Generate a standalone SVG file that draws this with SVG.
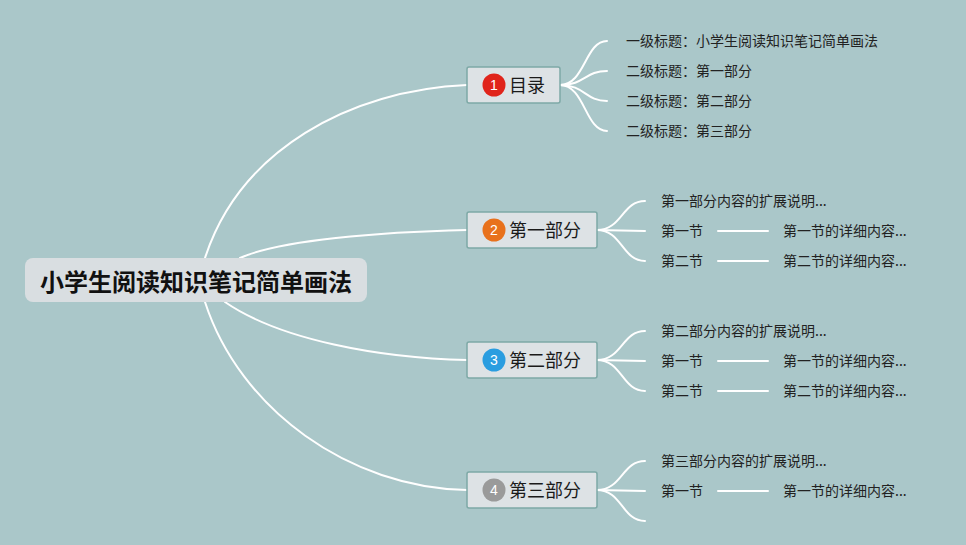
<svg xmlns="http://www.w3.org/2000/svg" width="966" height="545" viewBox="0 0 966 545">
<style>
.bg{fill:#aac7c9}
.c{fill:none;stroke:#ffffff;stroke-width:2;stroke-linecap:round}
.box{fill:#dde2e5;stroke:#7ea9a6;stroke-width:1.5}
.lbl{font-family:"Noto Sans CJK SC","Noto Sans",sans-serif;font-size:18px;fill:#1a1a1a}
.t{font-family:"Noto Sans CJK SC","Noto Sans",sans-serif;font-size:14px;fill:#222222}
.num{font-family:"Liberation Sans",Arial,sans-serif;font-size:14px;fill:#ffffff;text-anchor:middle}
</style>
<rect class="bg" x="0" y="0" width="966" height="545"/>
<g id="connectors">
<path class="c" d="M205 258 C240 150 350 90 467 85"/>
<path class="c" d="M240 258 C280 240 380 232 467 230"/>
<path class="c" d="M225 302 C280 340 380 358 467 360"/>
<path class="c" d="M205 302 C240 410 350 488 467 490"/>
<path class="c" d="M560 85 C585 85 585 41 607 41"/>
<path class="c" d="M560 85 C585 85 585 71 607 71"/>
<path class="c" d="M560 85 C585 85 585 101 607 101"/>
<path class="c" d="M560 85 C585 85 585 131 607 131"/>
<path class="c" d="M597 230 C622 230 622 201 645 201"/>
<path class="c" d="M597 230 L645 231"/>
<path class="c" d="M597 230 C622 230 622 261 645 261"/>
<path class="c" d="M718 231 L768 231"/>
<path class="c" d="M718 261 L768 261"/>
<path class="c" d="M597 360 C622 360 622 331 645 331"/>
<path class="c" d="M597 360 L645 361"/>
<path class="c" d="M597 360 C622 360 622 391 645 391"/>
<path class="c" d="M718 361 L768 361"/>
<path class="c" d="M718 391 L768 391"/>
<path class="c" d="M597 490 C622 490 622 461 645 461"/>
<path class="c" d="M597 490 L645 491"/>
<path class="c" d="M597 490 C622 490 622 521 645 521"/>
<path class="c" d="M718 491 L768 491"/>
</g>
<g id="root">
<rect x="25" y="258" width="342" height="44" rx="8" fill="#d9dee1"/>
<text x="196" y="290.5" text-anchor="middle" font-family="'Noto Sans CJK SC','Noto Sans',sans-serif" font-size="24" font-weight="bold" fill="#111111">小学生阅读知识笔记简单画法</text>
</g>
<g id="n1">
<rect class="box" x="467" y="67" width="93" height="36" rx="2"/>
<circle cx="494" cy="85" r="11.5" fill="#e0241b"/>
<text class="num" x="494" y="90">1</text>
<text class="lbl" x="509" y="92">目录</text>
</g>
<g id="n1c">
<text class="t" x="626" y="46">一级标题：小学生阅读知识笔记简单画法</text>
<text class="t" x="626" y="76">二级标题：第一部分</text>
<text class="t" x="626" y="106">二级标题：第二部分</text>
<text class="t" x="626" y="136">二级标题：第三部分</text>
</g>
<g id="n2">
<rect class="box" x="467" y="212" width="130" height="36" rx="2"/>
<circle cx="494" cy="230" r="11.5" fill="#e8711c"/>
<text class="num" x="494" y="235">2</text>
<text class="lbl" x="509" y="237">第一部分</text>
</g>
<g id="n2c">
<text class="t" x="661" y="206">第一部分内容的扩展说明...</text>
<text class="t" x="661" y="236">第一节</text>
<text class="t" x="661" y="266">第二节</text>
<text class="t" x="783" y="236">第一节的详细内容...</text>
<text class="t" x="783" y="266">第二节的详细内容...</text>
</g>
<g id="n3">
<rect class="box" x="467" y="342" width="130" height="36" rx="2"/>
<circle cx="494" cy="360" r="11.5" fill="#2a9de0"/>
<text class="num" x="494" y="365">3</text>
<text class="lbl" x="509" y="367">第二部分</text>
</g>
<g id="n3c">
<text class="t" x="661" y="336">第二部分内容的扩展说明...</text>
<text class="t" x="661" y="366">第一节</text>
<text class="t" x="661" y="396">第二节</text>
<text class="t" x="783" y="366">第一节的详细内容...</text>
<text class="t" x="783" y="396">第二节的详细内容...</text>
</g>
<g id="n4">
<rect class="box" x="467" y="472" width="130" height="36" rx="2"/>
<circle cx="494" cy="490" r="11.5" fill="#9a9a9a"/>
<text class="num" x="494" y="495">4</text>
<text class="lbl" x="509" y="497">第三部分</text>
</g>
<g id="n4c">
<text class="t" x="661" y="466">第三部分内容的扩展说明...</text>
<text class="t" x="661" y="496">第一节</text>
<text class="t" x="783" y="496">第一节的详细内容...</text>
</g>
</svg>
